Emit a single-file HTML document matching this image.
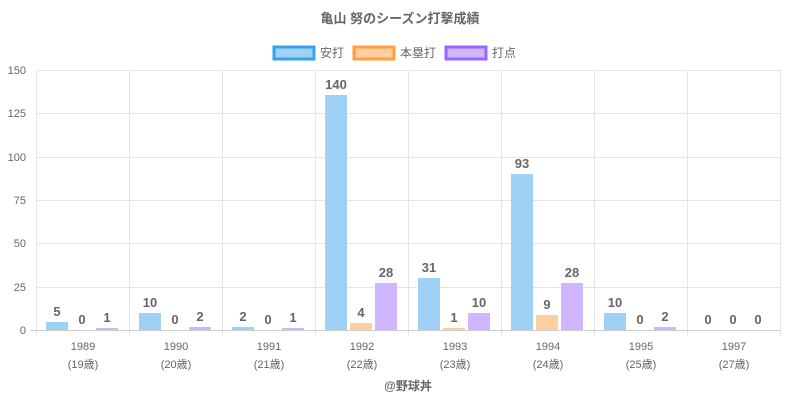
<!DOCTYPE html>
<html><head><meta charset="utf-8"><style>body{margin:0;background:#fff}svg{display:block}text{font-family:"Liberation Sans","Noto Sans CJK JP",sans-serif}</style></head><body>
<svg width="800" height="400" xmlns="http://www.w3.org/2000/svg">
<text x="400" y="23" text-anchor="middle" font-size="13" font-weight="bold" fill="#666">亀山 努のシーズン打撃成績</text>
<rect x="274" y="47" width="40" height="12" fill="#9fd0f5" stroke="#36a2eb" stroke-width="3"/>
<text x="320" y="57" font-size="12" fill="#666">安打</text>
<rect x="354" y="47" width="40" height="12" fill="#ffcf9f" stroke="#ff9f40" stroke-width="3"/>
<text x="400" y="57" font-size="12" fill="#666">本塁打</text>
<rect x="446" y="47" width="40" height="12" fill="#d0b5ff" stroke="#9966ff" stroke-width="3"/>
<text x="492" y="57" font-size="12" fill="#666">打点</text>
<g stroke="#e5e5e5" stroke-width="1">
<line x1="36" y1="70.5" x2="780" y2="70.5"/><line x1="36" y1="113.5" x2="780" y2="113.5"/><line x1="36" y1="157.5" x2="780" y2="157.5"/><line x1="36" y1="200.5" x2="780" y2="200.5"/><line x1="36" y1="243.5" x2="780" y2="243.5"/><line x1="36" y1="287.5" x2="780" y2="287.5"/>
<line x1="36.5" y1="70" x2="36.5" y2="336"/><line x1="129.5" y1="70" x2="129.5" y2="336"/><line x1="222.5" y1="70" x2="222.5" y2="336"/><line x1="315.5" y1="70" x2="315.5" y2="336"/><line x1="408.5" y1="70" x2="408.5" y2="336"/><line x1="501.5" y1="70" x2="501.5" y2="336"/><line x1="594.5" y1="70" x2="594.5" y2="336"/><line x1="687.5" y1="70" x2="687.5" y2="336"/><line x1="780.5" y1="70" x2="780.5" y2="336"/>
</g>
<line x1="30" y1="330.5" x2="780" y2="330.5" stroke="#ccc"/>
<g font-size="11" fill="#666" text-anchor="end">
<text x="26" y="74">150</text><text x="26" y="117">125</text><text x="26" y="161">100</text><text x="26" y="204">75</text><text x="26" y="247">50</text><text x="26" y="291">25</text><text x="26" y="334">0</text>
</g>
<g font-size="11" fill="#666" text-anchor="middle">
<text x="83" y="350">1989</text><text x="83" y="368">(19歳)</text>
<text x="176" y="350">1990</text><text x="176" y="368">(20歳)</text>
<text x="269" y="350">1991</text><text x="269" y="368">(21歳)</text>
<text x="362" y="350">1992</text><text x="362" y="368">(22歳)</text>
<text x="455" y="350">1993</text><text x="455" y="368">(23歳)</text>
<text x="548" y="350">1994</text><text x="548" y="368">(24歳)</text>
<text x="641" y="350">1995</text><text x="641" y="368">(25歳)</text>
<text x="734" y="350">1997</text><text x="734" y="368">(27歳)</text>
</g>
<g fill="#9fd0f5">
<rect x="46" y="322" width="22" height="8"/><rect x="139" y="313" width="22" height="17"/><rect x="232" y="327" width="22" height="3"/><rect x="325" y="95" width="22" height="235"/><rect x="418" y="278" width="22" height="52"/><rect x="511" y="174" width="22" height="156"/><rect x="604" y="313" width="22" height="17"/>
</g>
<g fill="#ffcf9f"><rect x="350" y="323" width="22" height="7"/><rect x="443" y="328" width="22" height="2"/><rect x="536" y="315" width="22" height="15"/></g>
<g fill="#d0b5ff">
<rect x="96" y="328" width="22" height="2"/><rect x="189" y="327" width="22" height="3"/><rect x="282" y="328" width="22" height="2"/><rect x="375" y="283" width="22" height="47"/><rect x="468" y="313" width="22" height="17"/><rect x="561" y="283" width="22" height="47"/><rect x="654" y="327" width="22" height="3"/>
</g>
<g font-size="13" font-weight="bold" fill="#666" text-anchor="middle">
<text x="57" y="316">5</text><text x="82" y="324">0</text><text x="107" y="322">1</text>
<text x="150" y="307">10</text><text x="175" y="324">0</text><text x="200" y="321">2</text>
<text x="243" y="321">2</text><text x="268" y="324">0</text><text x="293" y="322">1</text>
<text x="336" y="89">140</text><text x="361" y="317">4</text><text x="386" y="277">28</text>
<text x="429" y="272">31</text><text x="454" y="322">1</text><text x="479" y="307">10</text>
<text x="522" y="168">93</text><text x="547" y="309">9</text><text x="572" y="277">28</text>
<text x="615" y="307">10</text><text x="640" y="324">0</text><text x="665" y="321">2</text>
<text x="708" y="324">0</text><text x="733" y="324">0</text><text x="758" y="324">0</text>
</g>
<text x="408" y="390" text-anchor="middle" font-size="12" font-weight="bold" fill="#666">@野球丼</text>
</svg>
</body></html>
